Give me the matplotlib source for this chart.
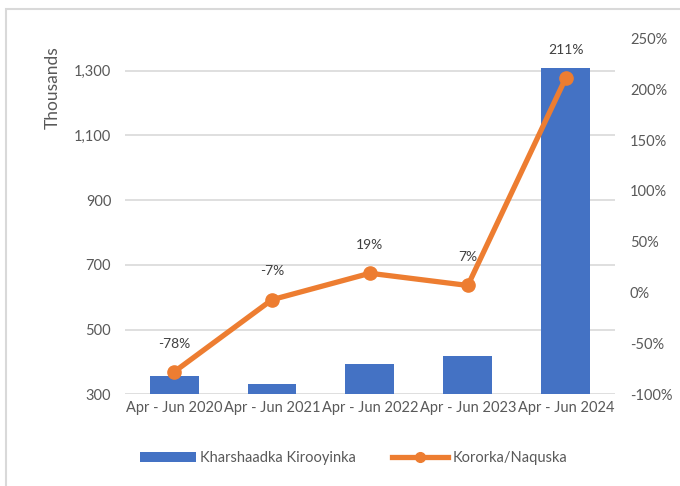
import matplotlib.pyplot as plt
from matplotlib.lines import Line2D
from matplotlib.patches import Rectangle
from matplotlib.ticker import FuncFormatter, MultipleLocator

plt.rcParams['font.family'] = ['Lato', 'DejaVu Sans']

# data
periods = ['Apr - Jun 2020', 'Apr - Jun 2021', 'Apr - Jun 2022', 'Apr - Jun 2023', 'Apr - Jun 2024']
arrivals = [357, 331, 393, 419, 1309]        # thousands
growth = [-78, -7, 19, 7, 211]               # percent

bar_label = 'Kharshaadka Kirooyinka'
line_label = 'Kororka/Naquska'

blue = '#4472C4'
orange = '#ED7D31'
grey_txt = '#595959'
grid_col = '#D9D9D9'

fig = plt.figure(figsize=(6.8, 4.86), dpi=100)
ax = fig.add_axes([0.184, 0.1887, 0.72, 0.7325])
ax2 = ax.twinx()

x = range(len(periods))
bars = ax.bar(x, arrivals, width=0.5, color=blue, zorder=2, label=bar_label)
ax.set_ylim(300, 1400)
ax.set_xlim(-0.5, len(periods) - 0.5)
ax.set_yticks([300, 500, 700, 900, 1100, 1300])
ax.yaxis.set_major_formatter(FuncFormatter(lambda v, p: '{:,.0f}'.format(v)))
ax.grid(axis='y', color=grid_col, linewidth=1.2, zorder=0)
ax.set_axisbelow(True)
ax.set_xticks(list(x))
ax.set_xticklabels(periods)

ax2.plot(x, growth, color=orange, linewidth=3.8, marker='o', markersize=9.5,
         zorder=3, label=line_label)
ax2.set_ylim(-100, 250)
ax2.yaxis.set_major_locator(MultipleLocator(50))
ax2.yaxis.set_major_formatter(FuncFormatter(lambda v, p: '{:.0f}%'.format(v)))

for xi, g in zip(x, growth):
    ax2.annotate('{}%'.format(g), (xi, g), xytext=(0, 16), textcoords='offset points',
                 ha='center', va='bottom', fontsize=10, color='#404040')

for a in (ax, ax2):
    for s in a.spines.values():
        s.set_visible(False)
    a.tick_params(length=0, labelsize=10.5, colors=grey_txt)
ax.tick_params(axis='y', pad=10)
ax2.tick_params(axis='y', pad=11)
ax.tick_params(axis='x', pad=5)

fig.text(0.077, 0.82, 'Thousands', rotation=90, ha='center', va='center',
         fontsize=12.5, color=grey_txt)

line_handle = Line2D([], [], color=orange, linewidth=3.8, marker='o', markersize=7)
fig.legend([bars, line_handle], [bar_label, line_label], loc='center', ncol=2,
           bbox_to_anchor=(0.52, 0.057), frameon=False, fontsize=10.5,
           labelcolor=grey_txt, handlelength=3.8, columnspacing=2.5, handletextpad=0.3)

# outer chart frame (only top and left edges show)
fig.patches.append(Rectangle((6 / 680, -0.1), 1.2, 1.1 - 9 / 486,
                             transform=fig.transFigure, fill=False,
                             edgecolor='#D9D9D9', linewidth=1.5))

fig.savefig('out.png', dpi=100)
